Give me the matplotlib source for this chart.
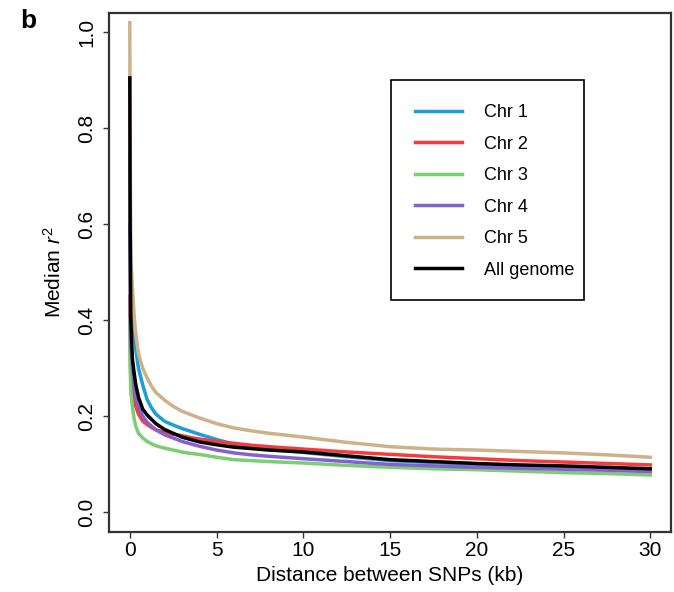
import matplotlib
matplotlib.use("Agg")
import matplotlib.pyplot as plt
from matplotlib.patches import Rectangle

plt.rcParams['font.family'] = ['Liberation Sans', 'DejaVu Sans']
plt.rcParams['mathtext.fontset'] = 'custom'
plt.rcParams['mathtext.rm'] = 'Liberation Sans'
plt.rcParams['mathtext.it'] = 'Liberation Sans:italic'

# distance between SNPs (kb)
dist = [0, 0.02, 0.06, 0.15, 0.25, 0.35, 0.5, 0.75, 1.0, 1.25, 1.5, 2, 2.5, 3, 3.5,
        4, 5, 6, 7, 8, 10, 12.5, 15, 17.5, 20, 22.5, 25, 27.5, 30]

chr1 = [0.75, 0.60, 0.50, 0.45, 0.38, 0.338, 0.30, 0.265, 0.235, 0.218, 0.205, 0.19,
        0.182, 0.175, 0.169, 0.163, 0.152, 0.142, 0.137, 0.132, 0.125, 0.116, 0.108,
        0.104, 0.100, 0.097, 0.095, 0.092, 0.090]
chr2 = [0.45, 0.35, 0.28, 0.26, 0.235, 0.22, 0.205, 0.19, 0.183, 0.177, 0.172, 0.167,
        0.163, 0.160, 0.156, 0.153, 0.148, 0.144, 0.140, 0.137, 0.132, 0.126, 0.121,
        0.116, 0.112, 0.108, 0.105, 0.102, 0.099]
chr3 = [0.40, 0.30, 0.25, 0.22, 0.195, 0.179, 0.165, 0.155, 0.148, 0.143, 0.139, 0.134,
        0.130, 0.126, 0.123, 0.121, 0.115, 0.110, 0.108, 0.106, 0.103, 0.098, 0.094,
        0.091, 0.089, 0.086, 0.083, 0.081, 0.078]
chr4 = [0.60, 0.45, 0.35, 0.30, 0.26, 0.24, 0.22, 0.20, 0.188, 0.180, 0.172, 0.162,
        0.155, 0.148, 0.143, 0.138, 0.130, 0.124, 0.120, 0.117, 0.112, 0.106, 0.100,
        0.097, 0.094, 0.092, 0.090, 0.088, 0.085]
chr5 = [1.02, 0.75, 0.53, 0.47, 0.41, 0.37, 0.33, 0.30, 0.28, 0.263, 0.25, 0.234,
        0.221, 0.211, 0.204, 0.197, 0.185, 0.176, 0.170, 0.165, 0.157, 0.146, 0.137,
        0.132, 0.130, 0.127, 0.124, 0.120, 0.115]
genome = [0.905, 0.60, 0.40, 0.32, 0.29, 0.265, 0.24, 0.215, 0.203, 0.194, 0.185, 0.173,
          0.165, 0.157, 0.152, 0.147, 0.141, 0.136, 0.133, 0.130, 0.126, 0.118, 0.110,
          0.106, 0.102, 0.099, 0.097, 0.094, 0.091]

labels = ['Chr 1', 'Chr 2', 'Chr 3', 'Chr 4', 'Chr 5', 'All genome']
colors = ['#1a9fd9', '#f53b3b', '#7ccd73', '#8560cf', '#cdb188', 'black']
series = [chr1, chr2, chr3, chr4, chr5, genome]

fig = plt.figure(figsize=(6.74, 5.92), dpi=100)
ax = fig.add_axes([0.1617, 0.1019, 0.834, 0.876])

for vals, lab, col in zip(series, labels, colors):
    ax.plot(dist, vals, color=col, lw=2.5, label=lab, solid_joinstyle='round')

ax.set_xlim(-1.2, 31.2)
ax.set_ylim(-0.04, 1.04)
ax.set_xticks([0, 5, 10, 15, 20, 25, 30])
ax.set_yticks([0.0, 0.2, 0.4, 0.6, 0.8, 1.0])
ax.set_yticklabels(['0.0', '0.2', '0.4', '0.6', '0.8', '1.0'], rotation=90, va='center')
ax.tick_params(direction='out', length=4, width=1, color='#333333', labelsize=15)
ax.tick_params(axis='x', pad=3)
ax.tick_params(axis='y', pad=5)
for sp in ax.spines.values():
    sp.set_linewidth(1.6)
    sp.set_color('#333333')

ax.set_xlabel('Distance between SNPs (kb)', fontsize=15)
ax.xaxis.set_label_coords(0.5, -0.066)
ax.set_ylabel('Median $r^2$', fontsize=15)
ax.yaxis.set_label_coords(-0.078, 0.5)

leg = ax.legend(loc='upper left', bbox_to_anchor=(0.501, 0.871), frameon=False,
                fontsize=13, handlelength=2.6, handletextpad=1.2,
                labelspacing=0.80, borderpad=1.35, borderaxespad=0)
for h in leg.get_lines():
    h.set_linewidth(2.5)
ax.add_patch(Rectangle((0.501, 0.447), 0.344, 0.424, transform=ax.transAxes,
                       fill=False, edgecolor='black', lw=1.2, zorder=5))

fig.text(0.030, 0.985, 'b', fontsize=19, fontweight='bold', va='top')

fig.savefig('out.png', dpi=100)
